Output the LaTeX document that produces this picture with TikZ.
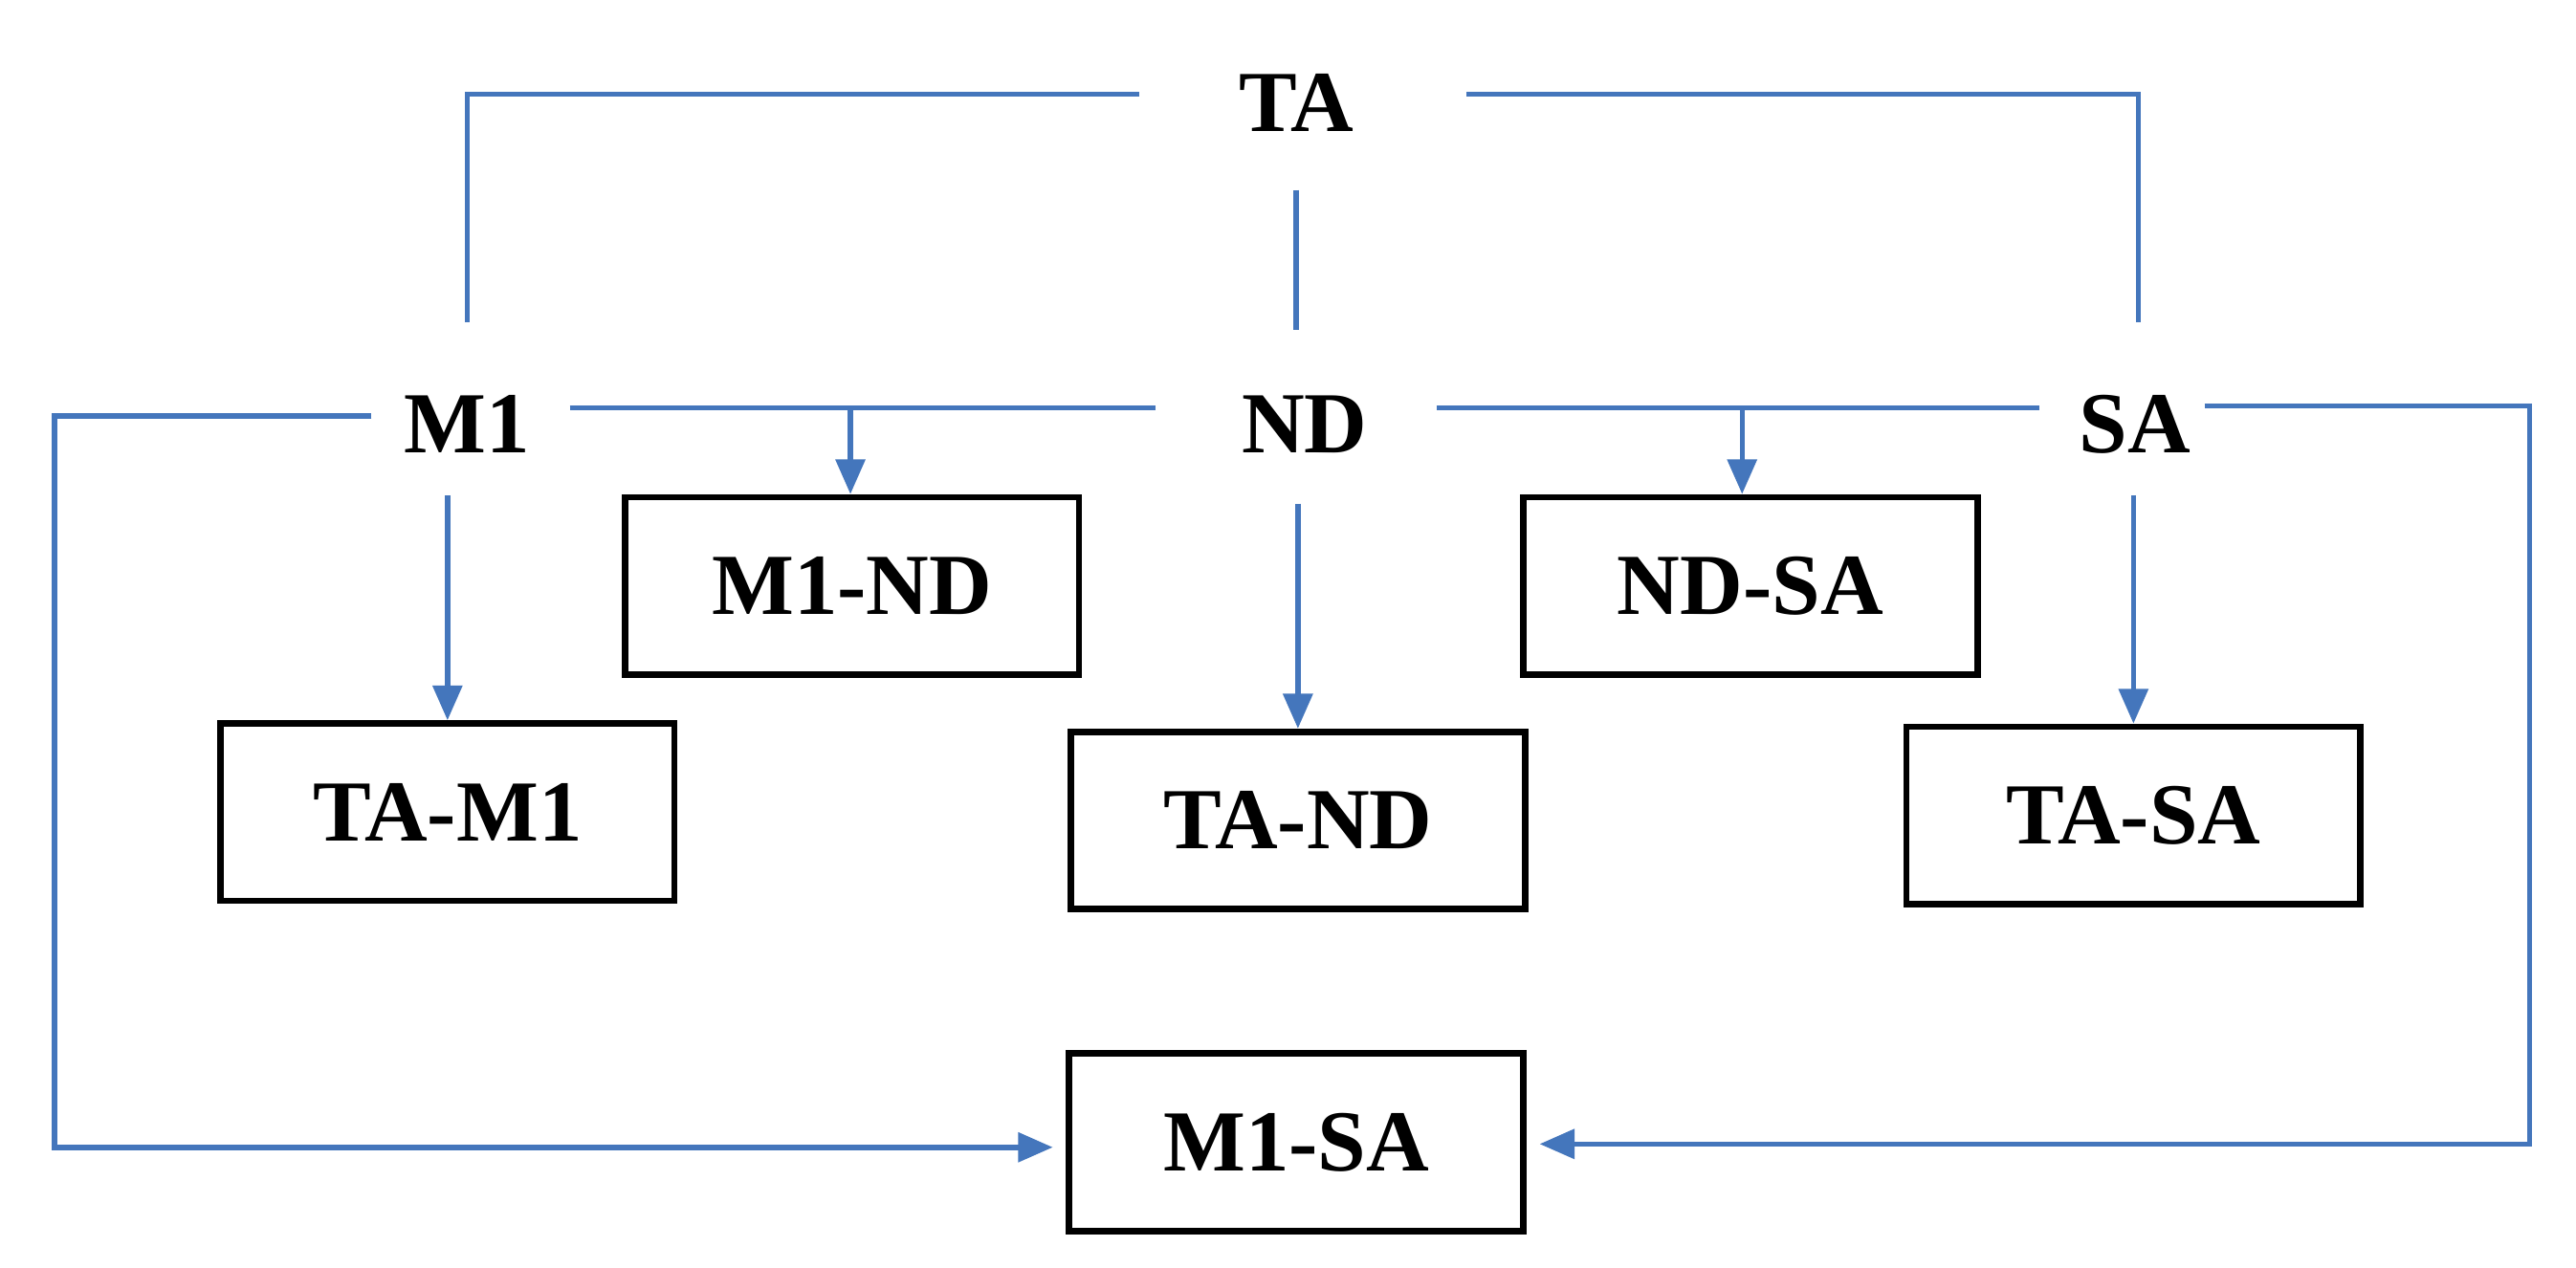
\documentclass[tikz,border=0pt]{standalone}
\usepackage{fontspec}
\setmainfont{Liberation Serif}
\usetikzlibrary{arrows.meta,calc}
\definecolor{lc}{RGB}{68,118,188}
\begin{document}
\begin{tikzpicture}[x=0.02cm,y=-0.02cm,
  lbl/.style={font=\fontsize{30}{34}\selectfont\bfseries, inner sep=0pt},
  box/.style={draw=black, line width=2.2pt, minimum width=5.5cm, minimum height=2.15cm, font=\fontsize{30}{34}\selectfont\bfseries},
  ln/.style={draw=lc, line width=1.8pt},
  ar/.style={ln, -{Triangle[length=12pt,width=10pt]}}]
\useasboundingbox (0,0) rectangle (1560,767.6);
\node[lbl] (TA) at (785,62) {TA};
\node[lbl] (M1) at (283,257) {M1};
\node[lbl] (ND) at (790,257) {ND};
\node[lbl] (SA) at (1293,257) {SA};
\node[box] (TAM1) at (271,492) {TA-M1};
\node[box] (M1ND) at (516,355) {M1-ND};
\node[box] (TAND) at (786,497) {TA-ND};
\node[box] (NDSA) at (1060,355) {ND-SA};
\node[box] (TASA) at (1292,494) {TA-SA};
\node[box] (M1SA) at (785,692) {M1-SA};
% TA links
\draw[ln] (690,57) -- (283,57) -- (283,195);
\draw[ln] (888,57) -- (1295,57) -- (1295,195);
\draw[ln] (785,115) -- (785,200);
% M1 to ND line with branch
\draw[ln] (345,247) -- (700,247);
\draw[ar] (515,247) -- (M1ND.north -| 515,0);
\draw[ln] (870,247) -- (1235,247);
\draw[ar] (1055,247) -- (NDSA.north -| 1055,0);
% downward
\draw[ar] (271,300) -- (TAM1.north);
\draw[ar] (786,305) -- (TAND.north);
\draw[ar] (1292,300) -- (TASA.north);
% loops
\draw[ar] (225,252) -- (33,252) -- (33,695) -- ($(M1SA.west)+(-8,3)$);
\draw[ar] (1335,246) -- (1532,246) -- (1532,693) -- ($(M1SA.east)+(8,1)$);
\end{tikzpicture}
\end{document}
